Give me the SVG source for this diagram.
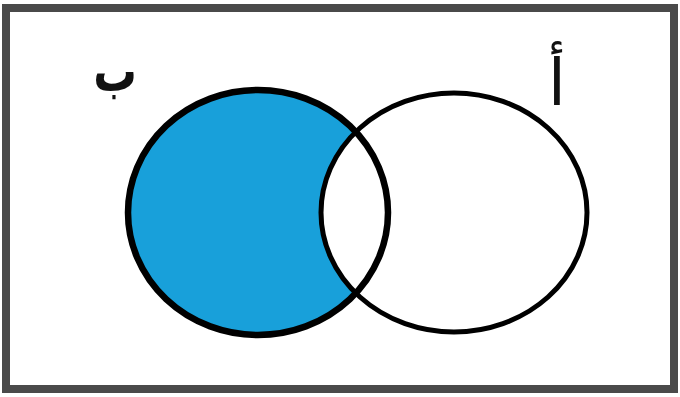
<svg xmlns="http://www.w3.org/2000/svg" width="680" height="397" viewBox="0 0 680 397">
<style>
.lbl{font-family:"DejaVu Sans","Noto Sans",sans-serif;fill:#111;text-anchor:middle}
.ring{fill:none;stroke:#000}
</style>
<rect x="0" y="0" width="680" height="397" fill="#fff"/>
<rect id="frame" x="6" y="8" width="668" height="381" fill="#fff" stroke="#4a4a4a" stroke-width="8"/>
<g id="setB">
<ellipse cx="258" cy="212.5" rx="130" ry="122.5" fill="#18a0da"/>
</g>
<g id="setA">
<ellipse cx="454" cy="212.5" rx="133" ry="119.5" fill="#fff"/>
</g>
<g id="outlines">
<ellipse class="ring" cx="258" cy="212.5" rx="130" ry="122.5" stroke-width="6.5"/>
<ellipse class="ring" cx="454" cy="212.5" rx="133" ry="119.5" stroke-width="5"/>
</g>
<g id="labels">
<text class="lbl" transform="translate(115 91) scale(0.75 1)" font-size="58" font-weight="bold">ب</text>
<text class="lbl" x="557" y="105" font-size="64">أ</text>
</g>
</svg>
